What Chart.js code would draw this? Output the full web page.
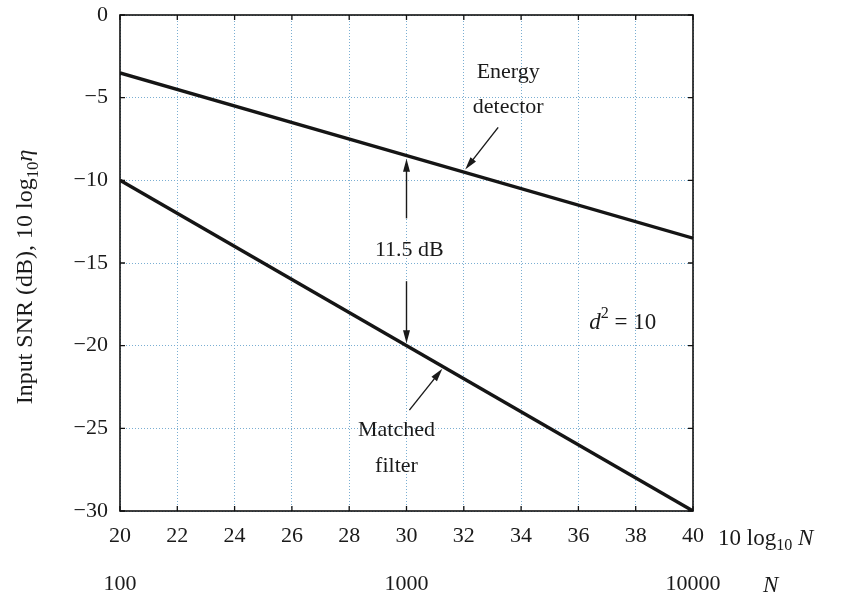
<!DOCTYPE html>
<html>
<head>
<meta charset="utf-8">
<script src="https://cdn.jsdelivr.net/npm/chart.js@4/dist/chart.umd.min.js"></script>
<style>
  html, body { margin: 0; padding: 0; background: #fff; }
  #wrap { width: 853px; height: 605px; }
</style>
</head>
<body>
<div id="wrap"><canvas id="snrChart"></canvas></div>
<script>
// values
const logN = [20, 40];                 // 10 log10 N
const energyDetector = [-3.5, -13.5];  // dB
const matchedFilter = [-10, -30];      // dB
const nTicks = [20, 30, 40];           // where N labels sit
const nLabels = ['100', '1000', '10000'];

const serif = '"Liberation Serif", "DejaVu Serif", serif';
const gridBlue = '#7aaed2';

function toPoints(xs, ys) {
    return xs.map((x, i) => ({ x: x, y: ys[i] }));
}

function arrow(ctx, x1, y1, x2, y2) {
    const ang = Math.atan2(y2 - y1, x2 - x1);
    const len = 13, half = 3.5;
    ctx.beginPath();
    ctx.moveTo(x1, y1);
    ctx.lineTo(x2 - Math.cos(ang) * len * 0.6, y2 - Math.sin(ang) * len * 0.6);
    ctx.stroke();
    ctx.beginPath();
    ctx.moveTo(x2, y2);
    ctx.lineTo(x2 - Math.cos(ang) * len + Math.sin(ang) * half, y2 - Math.sin(ang) * len - Math.cos(ang) * half);
    ctx.lineTo(x2 - Math.cos(ang) * len - Math.sin(ang) * half, y2 - Math.sin(ang) * len + Math.cos(ang) * half);
    ctx.closePath();
    ctx.fill();
}

// text with sub/superscripts, returns end x
function subText(ctx, parts, x, y, size) {
    let cx = x;
    parts.forEach(p => {
        const fs = p.sub || p.sup ? size * 0.7 : size;
        ctx.font = (p.italic ? 'italic ' : '') + fs + 'px ' + serif;
        const dy = p.sub ? size * 0.3 : (p.sup ? -size * 0.4 : 0);
        ctx.fillText(p.t, cx, y + dy);
        cx += ctx.measureText(p.t).width;
    });
    return cx;
}

function partsWidth(ctx, parts, size) {
    let w = 0;
    parts.forEach(p => {
        const fs = p.sub || p.sup ? size * 0.7 : size;
        ctx.font = (p.italic ? 'italic ' : '') + fs + 'px ' + serif;
        w += ctx.measureText(p.t).width;
    });
    return w;
}

const annotations = {
    id: 'annotations',
    afterDraw(chart) {
        const ctx = chart.ctx;
        const a = chart.chartArea;
        const xs = chart.scales.x, ys = chart.scales.y;
        const px = v => xs.getPixelForValue(v);
        const py = v => ys.getPixelForValue(v);

        ctx.save();
        // frame
        ctx.strokeStyle = '#111';
        ctx.lineWidth = 1.6;
        ctx.strokeRect(a.left, a.top, a.right - a.left, a.bottom - a.top);

        // inner tick marks on all four sides
        ctx.lineWidth = 1.3;
        xs.ticks.forEach(t => {
            const x = px(t.value);
            ctx.beginPath();
            ctx.moveTo(x, a.bottom); ctx.lineTo(x, a.bottom - 5);
            ctx.moveTo(x, a.top); ctx.lineTo(x, a.top + 5);
            ctx.stroke();
        });
        ys.ticks.forEach(t => {
            const y = py(t.value);
            ctx.beginPath();
            ctx.moveTo(a.left, y); ctx.lineTo(a.left + 5, y);
            ctx.moveTo(a.right, y); ctx.lineTo(a.right - 5, y);
            ctx.stroke();
        });

        ctx.fillStyle = '#1a1a1a';
        ctx.strokeStyle = '#1a1a1a';
        ctx.lineWidth = 1.4;
        ctx.textBaseline = 'middle';

        // Energy detector label + arrow
        ctx.font = '22px ' + serif;
        ctx.textAlign = 'center';
        ctx.fillText('Energy', px(33.55), py(-3.45));
        ctx.fillText('detector', px(33.55), py(-5.6));
        arrow(ctx, px(33.2), py(-6.8), px(32.05), py(-9.35));

        // Matched filter label + arrow
        ctx.fillText('Matched', px(29.65), py(-25.1));
        ctx.fillText('filter', px(29.65), py(-27.3));
        arrow(ctx, px(30.1), py(-23.9), px(31.25), py(-21.4));

        // 11.5 dB double arrow
        ctx.fillText('11.5 dB', px(30.1), py(-14.2));
        arrow(ctx, px(30), py(-12.3), px(30), py(-8.7));
        arrow(ctx, px(30), py(-16.1), px(30), py(-19.85));

        // d^2 = 10
        ctx.textAlign = 'left';
        const dParts = [{ t: 'd', italic: true }, { t: '2', sup: true }, { t: ' = 10' }];
        const dw = partsWidth(ctx, dParts, 23);
        subText(ctx, dParts, px(37.55) - dw / 2, py(-18.6), 23);

        // x axis names
        subText(ctx, [{ t: '10 log' }, { t: '10', sub: true }, { t: ' ' }, { t: 'N', italic: true }],
            718, 539, 23);
        subText(ctx, [{ t: 'N', italic: true }], 763, 586, 23);

        // y axis title, rotated
        const yParts = [{ t: 'Input SNR (dB), 10 log' }, { t: '10', sub: true }, { t: 'η', italic: true }];
        const yw = partsWidth(ctx, yParts, 24);
        ctx.translate(26, 277);
        ctx.rotate(-Math.PI / 2);
        subText(ctx, yParts, -yw / 2, 0, 24);
        ctx.restore();
    }
};

new Chart(document.getElementById('snrChart'), {
    type: 'scatter',
    data: {
        datasets: [
            {
                label: 'Energy detector',
                data: toPoints(logN, energyDetector),
                showLine: true,
                borderColor: '#151515',
                borderWidth: 3.4,
                pointRadius: 0
            },
            {
                label: 'Matched filter',
                data: toPoints(logN, matchedFilter),
                showLine: true,
                borderColor: '#151515',
                borderWidth: 3.4,
                pointRadius: 0
            }
        ]
    },
    options: {
        responsive: true,
        maintainAspectRatio: false,
        animation: false,
        layout: { padding: { left: 0, right: 160, top: 15, bottom: 0 } },
        plugins: {
            legend: { display: false },
            tooltip: { enabled: false }
        },
        scales: {
            x: {
                type: 'linear',
                min: 20, max: 40,
                position: 'bottom',
                afterFit: s => { s.height = 48; s.paddingLeft = 0; s.paddingRight = 0; },
                grid: { color: gridBlue, lineWidth: 1, drawTicks: false },
                border: { display: false, dash: [1, 2] },
                ticks: {
                    stepSize: 2,
                    padding: 12,
                    color: '#1a1a1a',
                    font: { family: serif, size: 22 }
                }
            },
            x2: {
                type: 'linear',
                min: 20, max: 40,
                position: 'bottom',
                afterFit: s => { s.height = 46; s.paddingLeft = 0; s.paddingRight = 0; },
                afterBuildTicks: s => { s.ticks = nTicks.map(v => ({ value: v })); },
                border: { display: false },
                grid: { display: false, drawTicks: false },
                ticks: {
                    padding: 12,
                    autoSkip: false,
                    maxRotation: 0,
                    color: '#1a1a1a',
                    font: { family: serif, size: 22 },
                    callback: v => nLabels[nTicks.indexOf(v)]
                }
            },
            y: {
                type: 'linear',
                min: -30, max: 0,
                afterFit: s => { s.width = 120; s.paddingTop = 0; s.paddingBottom = 0; },
                grid: { color: gridBlue, lineWidth: 1, drawTicks: false },
                border: { display: false, dash: [1, 2] },
                ticks: {
                    stepSize: 5,
                    padding: 12,
                    color: '#1a1a1a',
                    font: { family: serif, size: 22 },
                    callback: v => String(v).replace('-', '\u2212')
                }
            }
        }
    },
    plugins: [annotations]
});
</script>
</body>
</html>
